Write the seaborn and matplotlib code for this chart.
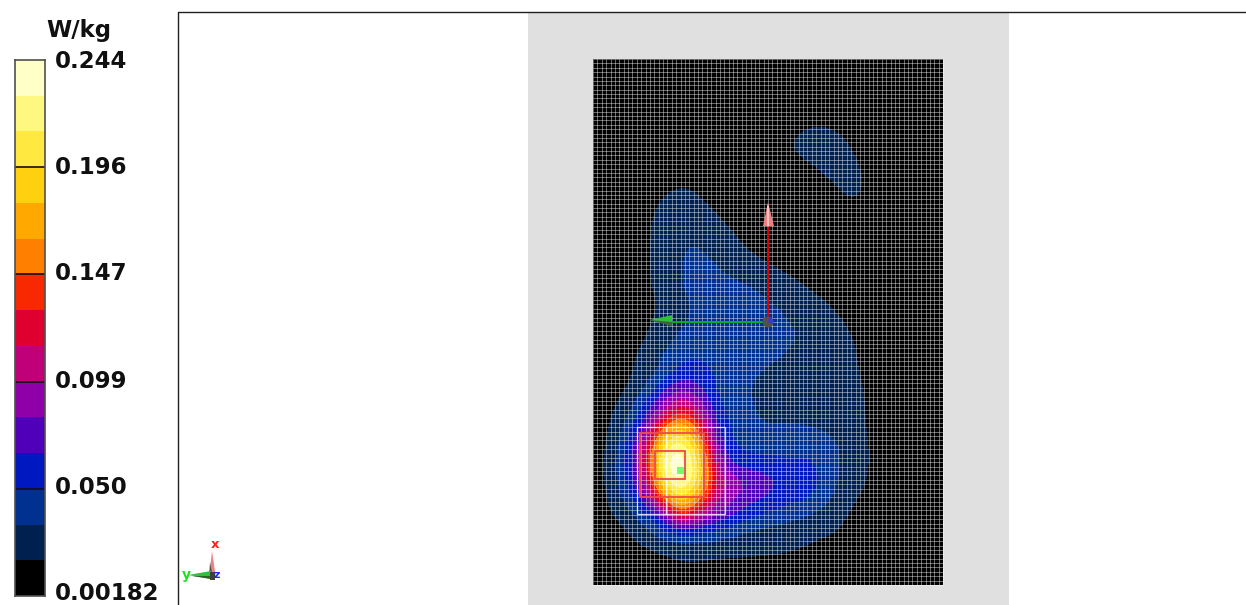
# SAR area scan plot, W/kg colour bar + field map

import numpy as np
import pandas as pd
import seaborn as sns
import matplotlib
matplotlib.use("Agg")
import matplotlib.pyplot as plt
from matplotlib.colors import ListedColormap, BoundaryNorm
from matplotlib.patches import Polygon, Rectangle, Circle, Wedge

W, H = 1246, 605

# ---- data ----
unit = "W/kg"
tick_labels = ["0.244", "0.196", "0.147", "0.099", "0.050", "0.00182"]

# colour bands, low to high
band_colors = ["#000000", "#002050", "#003090", "#0018C0", "#5000B8", "#9000A8",
               "#C00078", "#E00030", "#F82800", "#FF8000", "#FFA800", "#FFD010",
               "#FFE840", "#FFF880", "#FFFFC8"]
band_edges = [1.82, 18, 34, 50, 66, 82, 99, 115, 131, 147, 163, 179, 196, 212, 228, 244]

# field in mW/kg, read on a 17.5 px raster over the scan area (21 columns, 31 rows)
sar_rows = [
    [5, 5, 5, 5, 5, 5, 5, 5, 5, 5, 5, 5, 5, 5, 5, 5, 5, 5, 5, 5, 5],
    [5, 5, 5, 5, 5, 5, 5, 5, 5, 5, 5, 5, 5, 5, 5, 5, 5, 5, 5, 5, 5],
    [5, 5, 5, 5, 5, 5, 5, 5, 5, 5, 5, 5, 6, 6, 6, 5, 5, 5, 5, 5, 5],
    [5, 5, 5, 5, 5, 5, 5, 5, 5, 5, 5, 6, 8, 10, 8, 6, 5, 5, 5, 5, 5],
    [5, 5, 5, 5, 5, 5, 5, 5, 5, 5, 6, 11, 18, 21, 17, 10, 6, 5, 5, 5, 5],
    [5, 5, 5, 5, 5, 5, 5, 5, 5, 5, 6, 15, 26, 27, 25, 15, 8, 5, 5, 5, 5],
    [5, 5, 5, 5, 5, 5, 5, 5, 5, 5, 5, 8, 15, 21, 27, 21, 10, 5, 5, 5, 5],
    [5, 5, 5, 6, 11, 17, 12, 6, 5, 5, 5, 5, 8, 13, 21, 24, 12, 5, 5, 5, 5],
    [5, 5, 6, 10, 20, 24, 22, 11, 6, 5, 5, 5, 5, 8, 14, 21, 10, 5, 5, 5, 5],
    [5, 5, 7, 14, 24, 28, 27, 21, 11, 6, 5, 5, 5, 5, 7, 8, 6, 5, 5, 5, 5],
    [5, 5, 8, 15, 25, 31, 33, 26, 20, 10, 6, 5, 5, 5, 5, 5, 5, 5, 5, 5, 5],
    [5, 5, 8, 15, 26, 34, 36, 31, 25, 18, 12, 7, 5, 5, 5, 5, 5, 5, 5, 5, 5],
    [5, 5, 8, 15, 26, 34, 38, 36, 30, 27, 22, 16, 10, 6, 5, 5, 5, 5, 5, 5, 5],
    [5, 5, 7, 14, 25, 34, 39, 40, 38, 34, 30, 26, 20, 13, 7, 5, 5, 5, 5, 5, 5],
    [5, 5, 7, 12, 21, 30, 37, 41, 42, 40, 36, 30, 26, 22, 15, 8, 5, 5, 5, 5, 5],
    [5, 5, 8, 15, 23, 31, 38, 42, 44, 44, 41, 36, 29, 25, 21, 14, 7, 5, 5, 5, 5],
    [5, 6, 10, 18, 29, 38, 43, 45, 46, 46, 44, 39, 33, 26, 23, 18, 10, 5, 5, 5, 5],
    [5, 7, 14, 24, 34, 47, 49, 47, 46, 44, 39, 32, 27, 25, 23, 19, 12, 6, 5, 5, 5],
    [6, 8, 15, 25, 40, 58, 58, 47, 41, 36, 30, 26, 24, 22, 22, 20, 14, 7, 5, 5, 5],
    [7, 12, 19, 38, 68, 90, 75, 50, 40, 34, 28, 25, 23, 22, 22, 21, 15, 7, 5, 5, 5],
    [8, 15, 28, 58, 92, 130, 105, 56, 43, 35, 31, 30, 28, 25, 23, 22, 15, 7, 5, 5, 5],
    [10, 17, 41, 75, 150, 185, 145, 66, 46, 38, 33, 36, 35, 33, 26, 23, 15, 7, 5, 5, 5],
    [11, 19, 54, 103, 205, 232, 185, 80, 48, 45, 42, 40, 42, 45, 35, 24, 16, 7, 5, 5, 5],
    [12, 21, 57, 115, 232, 244, 205, 105, 56, 56, 55, 54, 54, 47, 35, 25, 16, 7, 5, 5, 5],
    [12, 20, 55, 98, 215, 240, 205, 115, 92, 80, 72, 62, 58, 53, 33, 24, 15, 7, 5, 5, 5],
    [11, 19, 43, 77, 155, 212, 165, 105, 84, 75, 66, 58, 56, 44, 29, 19, 12, 6, 5, 5, 5],
    [8, 17, 25, 45, 71, 140, 108, 82, 68, 53, 46, 41, 35, 29, 23, 14, 9, 5, 5, 5, 5],
    [6, 10, 18, 29, 44, 49, 49, 45, 38, 31, 29, 26, 25, 22, 18, 11, 6, 5, 5, 5, 5],
    [5, 6, 10, 16, 20, 26, 26, 23, 22, 22, 21, 20, 17, 12, 9, 6, 5, 5, 5, 5, 5],
    [5, 5, 6, 8, 10, 14, 14, 13, 13, 12, 12, 11, 9, 7, 6, 5, 5, 5, 5, 5, 5],
    [5, 5, 5, 5, 5, 5, 5, 5, 5, 5, 5, 5, 5, 5, 5, 5, 5, 5, 5, 5, 5],
]

sns.set_theme(style="white")
plt.rcParams["font.family"] = ["DejaVu Sans"]

fig = plt.figure(figsize=(W / 100, H / 100), dpi=100, facecolor="white")

# everything except the colour bar lives in a pixel-sized axes
ax = fig.add_axes([0, 0, 1, 1])
ax.set_axis_off()

ax.add_patch(Rectangle((528, 12), 481, 593, fc="#E0E0E0", ec="none", zorder=0))
ax.plot([177.5, 177.5, W], [H, 11.5, 11.5], color="#202020", lw=1, zorder=1)

# ---- field ----
sx0, sx1, sy0, sy1 = 593, 943, 59, 585
sar = np.array(sar_rows, dtype=float)
dx = (sx1 - sx0) / (sar.shape[1] - 1)
dy = (sy1 - sy0) / (sar.shape[0] - 1)
cmap = ListedColormap(band_colors)
norm = BoundaryNorm(band_edges, cmap.N, clip=True)
im = ax.imshow(sar, cmap=cmap, norm=norm, interpolation="bicubic",
               interpolation_stage="data", aspect="auto", zorder=2,
               extent=(sx0 - dx / 2, sx1 + dx / 2, sy1 + dy / 2, sy0 - dy / 2))
im.set_clip_path(Rectangle((sx0, sy0), sx1 - sx0, sy1 - sy0, transform=ax.transData))

# scan raster
ax.vlines(np.linspace(sx0, sx1, 81), sy0, sy1, color="white", lw=0.65, alpha=0.45, zorder=3)
ax.hlines(np.linspace(sy0, sy1, 121), sx0, sx1, color="white", lw=0.65, alpha=0.45, zorder=3)

# zoom scan boxes
ax.add_patch(Rectangle((637, 427), 88, 87, fc="none", ec="white", lw=0.9, alpha=0.8, zorder=4))
ax.plot([666, 666], [427, 514], color="white", lw=0.9, alpha=0.8, zorder=4)
ax.add_patch(Rectangle((640, 433), 64, 64, fc="none", ec="#F04848", lw=1.3, zorder=5))
ax.add_patch(Rectangle((655, 451), 30, 28, fc="none", ec="#F04848", lw=1.3, zorder=5))
ax.add_patch(Rectangle((677, 467), 7, 7, fc="#70FF70", ec="none", zorder=6))

# probe axes
ax.plot([768, 768], [322, 225], color="#E00000", lw=1.4, zorder=6)
ax.add_patch(Polygon([(768, 202), (763, 226), (774, 226)], fc="#F08080", ec="none", zorder=6))
ax.plot([768, 768], [206, 226], color="#FFD0D0", lw=1.2, zorder=6)
ax.plot([762, 672], [322, 322], color="#00B020", lw=1.4, zorder=6)
ax.add_patch(Polygon([(650, 320), (672, 315), (672, 326)], fc="#30C040", ec="none", zorder=6))
ax.add_patch(Polygon([(650, 320), (672, 322), (672, 326)], fc="#406040", ec="none", zorder=6))
ax.add_patch(Circle((768, 322), 5.5, fc="#505050", ec="none", zorder=7))
ax.add_patch(Wedge((768, 322), 5.5, -80, 20, fc="#3838E0", ec="none", zorder=8))

# small orientation triad, lower left
ax.add_patch(Polygon([(212, 551), (209, 578), (216, 578)], fc="#F08080", ec="none", zorder=6))
ax.add_patch(Polygon([(210, 562), (209, 578), (213, 578)], fc="#505050", ec="none", zorder=6))
ax.add_patch(Polygon([(188, 575), (211, 571), (211, 579)], fc="#30C040", ec="none", zorder=6))
ax.add_patch(Polygon([(192, 576), (211, 576), (211, 579)], fc="#306030", ec="none", zorder=6))
ax.add_patch(Rectangle((210, 572), 5, 8, fc="#404040", ec="none", zorder=7))
ax.text(215.5, 544, "x", color="#FF2020", fontsize=9.5, fontweight="bold", ha="center", va="center", zorder=8)
ax.text(186, 575, "y", color="#20E020", fontsize=10, fontweight="bold", ha="center", va="center", zorder=8)
ax.text(216.5, 574.5, "z", color="#2020FF", fontsize=8, fontweight="bold", ha="center", va="center", zorder=8)

ax.set_xlim(0, W)
ax.set_ylim(H, 0)

# ---- colour bar, one heatmap cell per band ----
cax = fig.add_axes([15 / W, 1 - 596 / H, 30 / W, 536 / H])
bands = pd.DataFrame(np.arange(len(band_colors))[::-1].reshape(-1, 1))
sns.heatmap(bands, ax=cax, cmap=cmap, cbar=False, xticklabels=False, yticklabels=False)
cax.hlines(np.arange(3, len(band_colors), 3), 0, 1, color="#101010", lw=1.2)
for side in cax.spines.values():
    side.set_visible(True)
    side.set_color("#505050")
    side.set_linewidth(1.2)

label_y = [61, 167, 273, 381, 488, 593]
for lab, y in zip(tick_labels, label_y):
    ax.text(55, y, lab, fontsize=16.5, fontweight="bold", color="#101010", va="center",
            ha="left", zorder=9)
ax.text(79, 30, unit, fontsize=16.5, fontweight="bold", color="#101010", va="center",
        ha="center", zorder=9)

fig.savefig("out.png", dpi=100)
plt.close(fig)
